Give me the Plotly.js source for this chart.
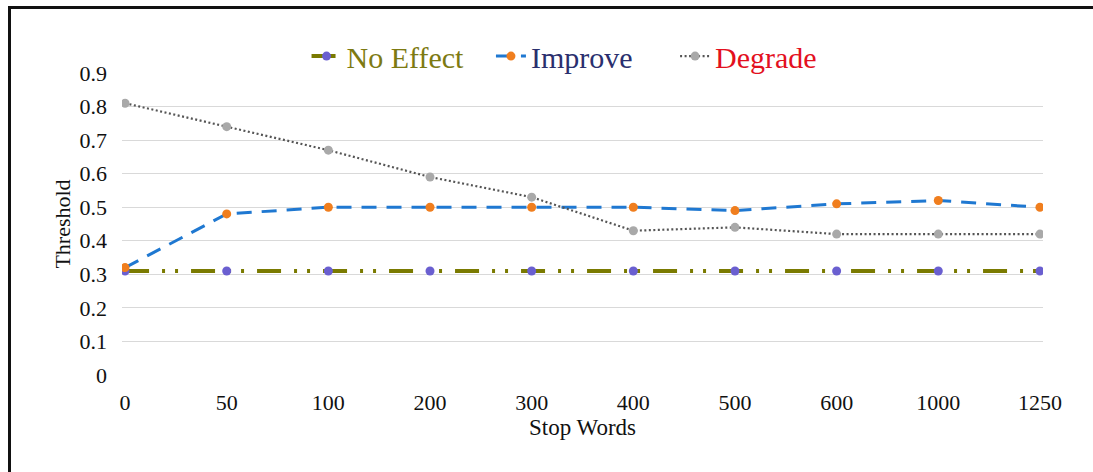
<!DOCTYPE html>
<html>
<head>
<meta charset="utf-8">
<script src="https://cdn.plot.ly/plotly-3.0.1.min.js"></script>
<style>
html,body{margin:0;padding:0;background:#fff;}
#wrap{position:relative;width:1093px;height:472px;overflow:hidden;}
#chart{position:absolute;left:0;top:0;width:1093px;height:472px;}
#frame{position:absolute;left:8px;top:6px;width:1200px;height:600px;border-left:3px solid #111;border-top:3px solid #111;pointer-events:none;}
</style>
</head>
<body>
<div id="wrap">
<div id="chart"></div>
<div id="frame"></div>
</div>
<script>
const categories = ["0","50","100","200","300","400","500","600","1000","1250"];
const noEffect = [0.31,0.31,0.31,0.31,0.31,0.31,0.31,0.31,0.31,0.31];
const improve  = [0.32,0.48,0.50,0.50,0.50,0.50,0.49,0.51,0.52,0.50];
const degrade  = [0.81,0.74,0.67,0.59,0.53,0.43,0.44,0.42,0.42,0.42];
const yTicks = [0,0.1,0.2,0.3,0.4,0.5,0.6,0.7,0.8,0.9];
const yTickText = ["0","0.1","0.2","0.3","0.4","0.5","0.6","0.7","0.8","0.9"];

const serif = "Liberation Serif";

const traces = [
  {
    x: categories, y: noEffect, type: "scatter", mode: "lines+markers",
    name: '<span style="color:#7d7a12">No Effect</span>&nbsp;&nbsp;&nbsp;',
    line: {color: "#7a7a00", width: 4, dash: "24px,13px,3px,10px,3px,13px"},
    marker: {color: "#6a5fd0", size: 9}
  },
  {
    x: categories, y: improve, type: "scatter", mode: "lines+markers",
    name: '<span style="color:#2a2f6e">Improve</span>&nbsp;&nbsp;&nbsp;&nbsp;&nbsp;',
    line: {color: "#1f78d1", width: 3, dash: "15px,10px"},
    marker: {color: "#f07e1e", size: 9}
  },
  {
    x: categories, y: degrade, type: "scatter", mode: "lines+markers",
    name: '<span style="color:#e3101e">Degrade</span>',
    line: {color: "#555555", width: 2.2, dash: "2px,2.5px"},
    marker: {color: "#a9a9a9", size: 9}
  }
];

const layout = {
  width: 1093, height: 472,
  paper_bgcolor: "#ffffff", plot_bgcolor: "#ffffff",
  margin: {l: 122, r: 50, t: 73, b: 97},
  font: {family: serif, size: 22, color: "#111"},
  showlegend: true,
  legend: {
    orientation: "h", x: 0.4805, xanchor: "center", y: 1.056, yanchor: "middle",
    font: {family: serif, size: 30}, bgcolor: "rgba(0,0,0,0)",
    tracegroupgap: 0
  },
  xaxis: {
    type: "category",
    range: [-0.03, 9.03],
    showgrid: false, zeroline: false, showline: false,
    ticks: "", ticklabelstandoff: 12,
    tickfont: {family: serif, size: 22, color: "#111"},
    title: {text: "Stop Words", font: {family: serif, size: 23, color: "#111"}, standoff: 4}
  },
  yaxis: {
    range: [0, 0.9],
    tickvals: yTicks, ticktext: yTickText,
    showgrid: true, gridcolor: "#d9d9d9", gridwidth: 1,
    zeroline: false, showline: false,
    ticks: "", ticklabelstandoff: 14,
    tickfont: {family: serif, size: 22, color: "#111"},
    title: {text: "Threshold", font: {family: serif, size: 22, color: "#111"}, standoff: 2}
  }
};

Plotly.newPlot("chart", traces, layout, {displayModeBar: false, staticPlot: true});
</script>
</body>
</html>
